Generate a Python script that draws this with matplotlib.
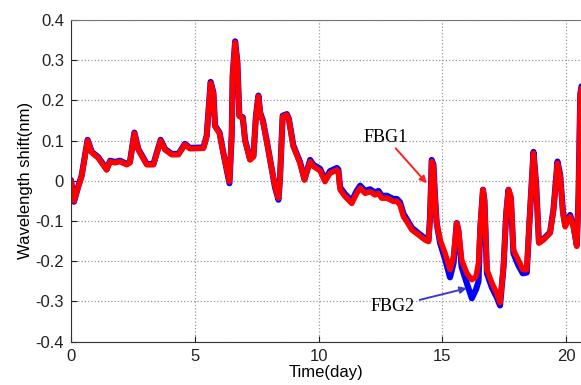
import numpy as np
import matplotlib
matplotlib.use("Agg")
import matplotlib.pyplot as plt

# time axis (day) shared by both sensors
t = [0.0, 0.12, 0.3, 0.43, 0.67, 0.84, 1.1, 1.44, 1.58, 1.78, 1.98, 2.25, 2.38, 2.56, 2.72,
     3.06, 3.33, 3.62, 3.8, 4.07, 4.34, 4.6, 4.8, 5.35, 5.48, 5.64, 5.75, 5.82, 6.0, 6.15,
     6.4, 6.49, 6.53, 6.63, 6.72, 6.8, 6.94, 7.03, 7.23, 7.37, 7.47, 7.57, 7.64, 7.75, 7.9,
     8.04, 8.24, 8.38, 8.44, 8.55, 8.72, 8.8, 8.98, 9.25, 9.43, 9.66, 9.79, 10.06, 10.26,
     10.46, 10.74, 10.8, 10.87, 11.07, 11.34, 11.54, 11.68, 11.88, 12.08, 12.28, 12.42,
     12.55, 12.76, 13.02, 13.16, 13.29, 13.43, 13.56, 13.77, 14.03, 14.3, 14.44, 14.5,
     14.57, 14.64, 14.7, 14.77, 14.91, 15.11, 15.31, 15.45, 15.58, 15.65, 15.78, 15.99,
     16.19, 16.36, 16.46, 16.53, 16.64, 16.7, 16.8, 17.0, 17.2, 17.33, 17.47, 17.58, 17.67,
     17.77, 17.87, 18.07, 18.25, 18.41, 18.52, 18.68, 18.79, 18.9, 19.08, 19.35, 19.49,
     19.65, 19.76, 19.87, 19.96, 20.16, 20.29, 20.43, 20.5, 20.57, 20.62]

fbg1 = [0.0, -0.05, -0.014, 0.011, 0.10, 0.07, 0.057, 0.027, 0.048, 0.045, 0.048, 0.04, 0.045,
        0.118, 0.077, 0.04, 0.04, 0.10, 0.077, 0.065, 0.065, 0.09, 0.08, 0.081, 0.11, 0.243,
        0.218, 0.135, 0.118, 0.069, -0.002, 0.11, 0.26, 0.344, 0.293, 0.16, 0.156, 0.10,
        0.052, 0.06, 0.16, 0.21, 0.168, 0.148, 0.10, 0.052, -0.014, -0.043, 0.002, 0.16,
        0.164, 0.152, 0.085, 0.044, 0.002, 0.048, 0.036, 0.025, -0.002, 0.019, 0.027, 0.023,
        -0.022, -0.039, -0.056, -0.031, -0.018, -0.031, -0.027, -0.035, -0.031, -0.043,
        -0.043, -0.051, -0.051, -0.06, -0.089, -0.101, -0.122, -0.134, -0.147, -0.151,
        -0.097, 0.048, 0.036, -0.039, -0.105, -0.147, -0.18, -0.221, -0.188, -0.105, -0.122,
        -0.197, -0.23, -0.246, -0.238, -0.205, -0.114, -0.022, -0.047, -0.221, -0.254, -0.28,
        -0.303, -0.213, -0.08, -0.022, -0.039, -0.172, -0.197, -0.221, -0.221, -0.097, 0.069,
        -0.014, -0.155, -0.147, -0.13, -0.072, 0.044, 0.011, -0.08, -0.114, -0.089, -0.114,
        -0.163, -0.039, 0.21, 0.23]

fbg2 = [0.002, -0.052, -0.012, 0.013, 0.102, 0.072, 0.059, 0.029, 0.05, 0.047, 0.05, 0.042,
        0.047, 0.12, 0.079, 0.042, 0.042, 0.102, 0.079, 0.067, 0.067, 0.092, 0.082, 0.083,
        0.112, 0.246, 0.22, 0.137, 0.12, 0.071, -0.006, 0.112, 0.262, 0.347, 0.295, 0.162,
        0.158, 0.102, 0.054, 0.062, 0.162, 0.212, 0.17, 0.15, 0.102, 0.054, -0.016, -0.047,
        0.004, 0.162, 0.166, 0.154, 0.088, 0.047, 0.004, 0.052, 0.04, 0.03, 0.003, 0.024,
        0.032, 0.028, -0.016, -0.033, -0.05, -0.025, -0.012, -0.025, -0.021, -0.029, -0.025,
        -0.037, -0.037, -0.045, -0.045, -0.053, -0.082, -0.095, -0.117, -0.13, -0.143,
        -0.148, -0.094, 0.052, 0.04, -0.036, -0.105, -0.155, -0.195, -0.24, -0.205, -0.105,
        -0.125, -0.215, -0.255, -0.292, -0.27, -0.25, -0.12, -0.022, -0.05, -0.23, -0.265,
        -0.29, -0.31, -0.215, -0.08, -0.022, -0.045, -0.18, -0.21, -0.23, -0.228, -0.1, 0.072,
        -0.01, -0.152, -0.145, -0.128, -0.07, 0.048, 0.015, -0.076, -0.11, -0.085, -0.11,
        -0.16, -0.035, 0.215, 0.235]

xticks = [0, 5, 10, 15, 20]
yticks = [-0.4, -0.3, -0.2, -0.1, 0, 0.1, 0.2, 0.3, 0.4]
ytick_labels = ["-0.4", "-0.3", "-0.2", "-0.1", "0", "0.1", "0.2", "0.3", "0.4"]

plt.rcParams['font.family'] = ['Liberation Sans', 'DejaVu Sans']

fig = plt.figure(figsize=(5.81, 3.85), dpi=100)
ax = fig.add_axes([71 / 581, 43.3 / 385, 1 - 71 / 581, (341.7 - 20) / 385])

ax.plot(t, fbg2, color='#0000ff', lw=4.4, solid_joinstyle='round', solid_capstyle='round')
ax.plot(t, fbg1, color='#ff0000', lw=4.0, solid_joinstyle='round', solid_capstyle='round')

ax.set_xlim(0, 20.6)
ax.set_ylim(-0.4, 0.4)
ax.set_xticks(xticks)
ax.set_xticklabels([str(v) for v in xticks])
ax.set_yticks(yticks)
ax.set_yticklabels(ytick_labels)
ax.tick_params(direction='in', length=4, labelsize=12, colors='#222222', pad=5)
ax.grid(True, linestyle=':', color='#999999', linewidth=0.9)
for s in ['left', 'bottom']:
    ax.spines[s].set_color('#333333')
ax.spines['top'].set_color('#777777')
ax.spines['right'].set_visible(False)

ax.set_xlabel('Time(day)', fontsize=12, labelpad=1)
ax.set_ylabel('Wavelength shift(nm)', fontsize=12, labelpad=2)

ax.annotate('FBG1', xy=(14.37, -0.006), xytext=(12.71, 0.109),
            fontsize=13, family='Liberation Serif', ha='center', va='center',
            arrowprops=dict(arrowstyle='-|>', color='#ff2020', lw=1.4,
                            shrinkA=0, shrinkB=0, mutation_scale=10))
ax.annotate('FBG2', xy=(15.99, -0.267), xytext=(12.97, -0.313),
            fontsize=13, family='Liberation Serif', ha='center', va='center',
            arrowprops=dict(arrowstyle='-|>', color='#3c3cc8', lw=1.4,
                            shrinkA=2, shrinkB=0, mutation_scale=10))

fig.savefig('out.png', dpi=100)
